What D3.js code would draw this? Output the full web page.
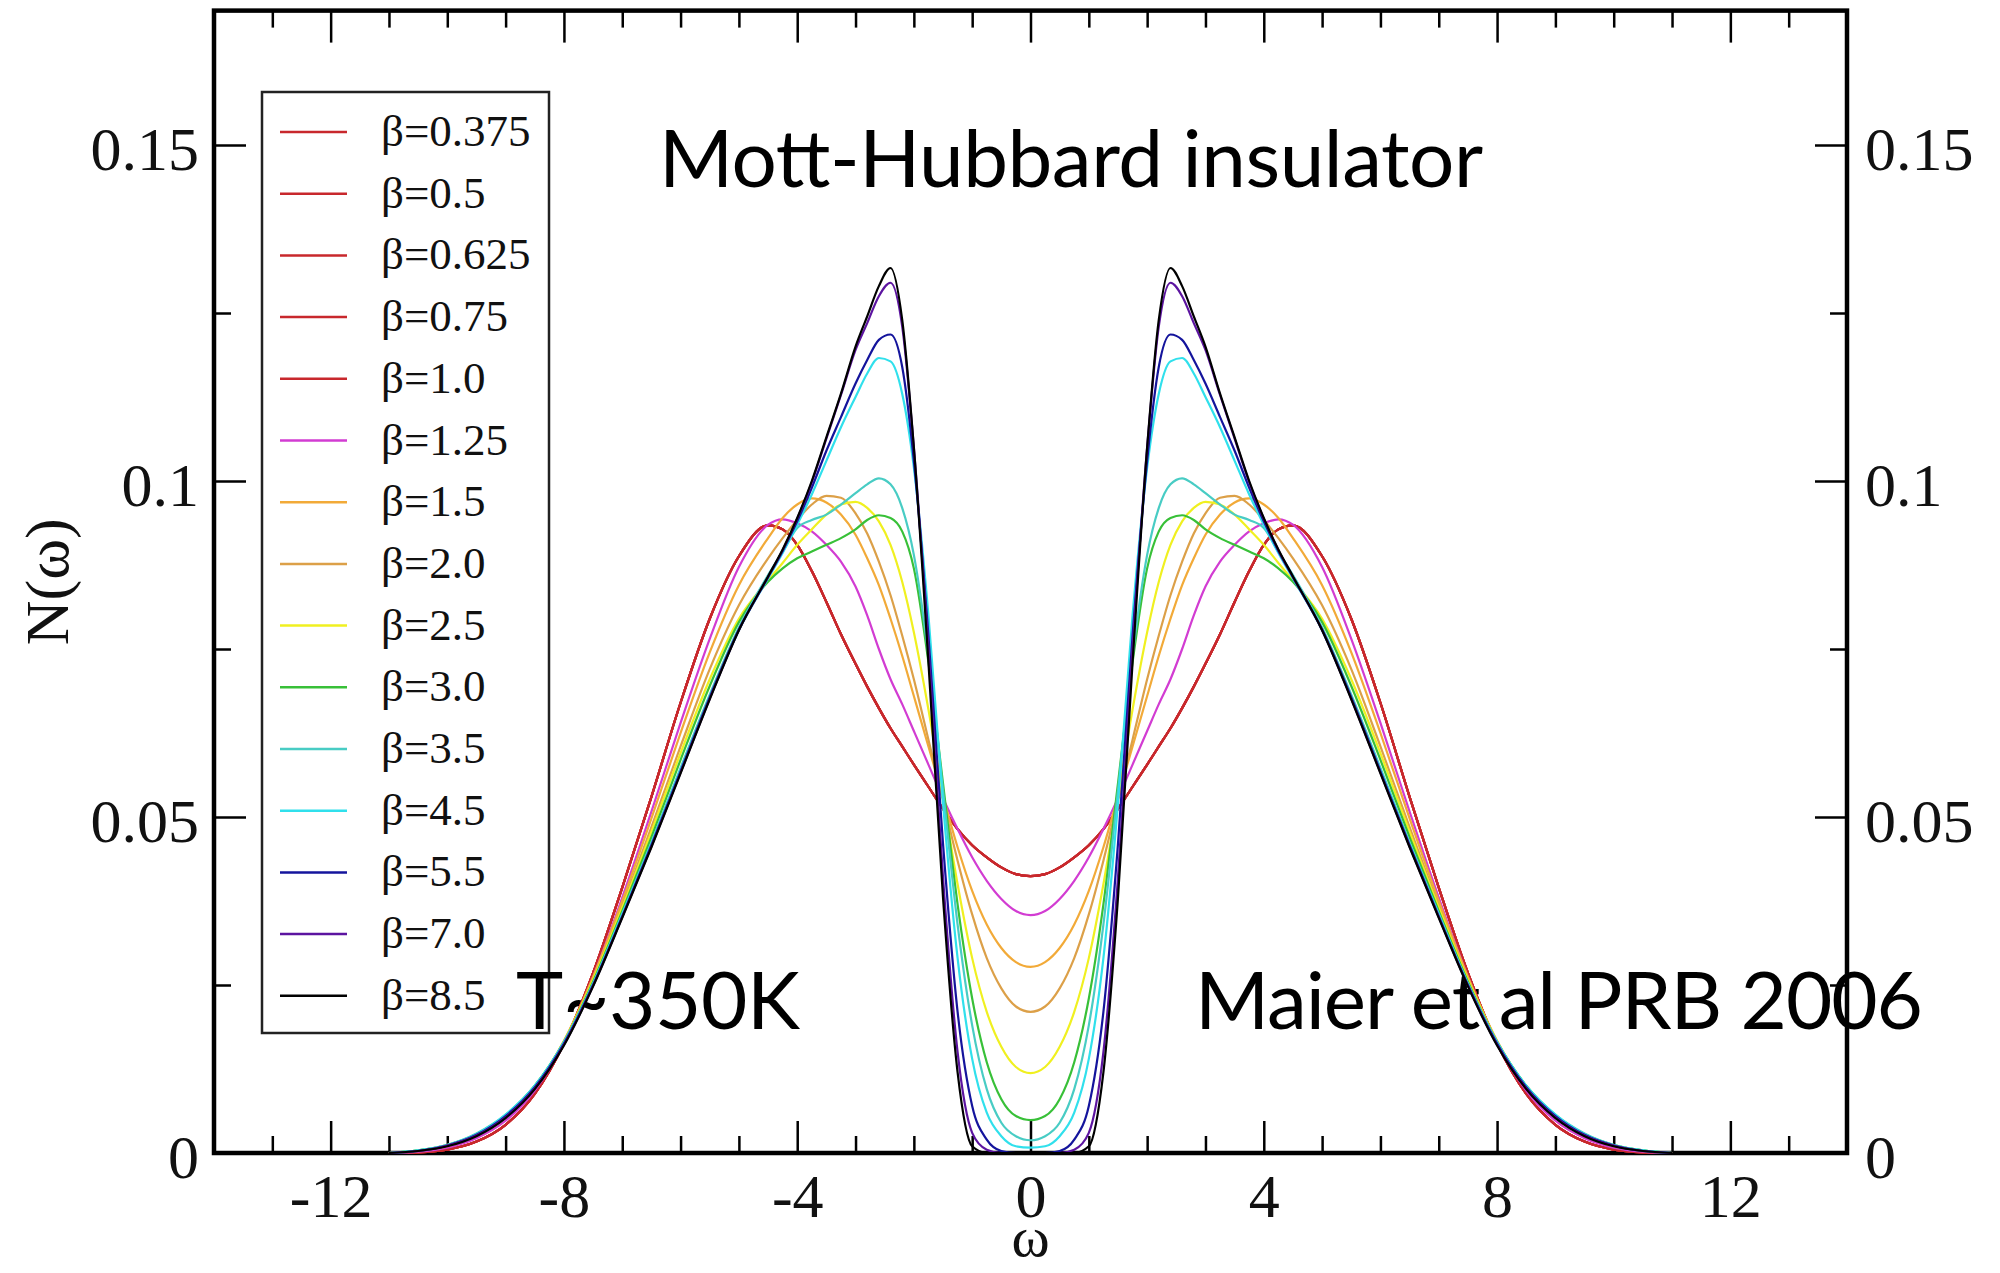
<!DOCTYPE html>
<html>
<head>
<meta charset="utf-8">
<script src="https://cdn.jsdelivr.net/npm/d3@7"></script>
<style>
  body { margin: 0; background: #fff; }
  svg { display: block; background: #fff; }
</style>
</head>
<body>
<svg id="chart"></svg>
<script>
// omega grid, positive half only - the spectra are symmetric around w = 0
var omega = [0, 0.25, 0.5, 0.75, 1, 1.25, 1.5, 1.75, 2, 2.2, 2.4, 2.6, 2.8, 3, 3.25, 3.5, 3.75,
             4, 4.25, 4.5, 5, 5.5, 6, 6.5, 7, 7.5, 8, 8.5, 9, 9.5, 10, 10.5, 11];

// N(w). beta 0.375 .. 1.0 sit on top of each other in the picture
var nRed    = [0.0412, 0.0415, 0.0425, 0.0440, 0.0458, 0.0482, 0.0512, 0.0545, 0.0578, 0.0605, 0.0632, 0.0662, 0.0694, 0.0728, 0.0772, 0.0820, 0.0866, 0.0905, 0.0928, 0.0934, 0.0888, 0.0795, 0.0670, 0.0530, 0.0395, 0.0268, 0.0163, 0.0088, 0.0042, 0.0017, 0.0005, 0.0001, 0];
var nB125   = [0.0354, 0.0360, 0.0378, 0.0405, 0.0440, 0.0482, 0.0528, 0.0578, 0.0628, 0.0668, 0.0705, 0.0750, 0.0800, 0.0843, 0.0880, 0.0905, 0.0925, 0.0937, 0.0943, 0.0935, 0.0872, 0.0765, 0.0640, 0.0508, 0.0380, 0.0262, 0.0163, 0.0093, 0.0048, 0.0022, 0.0008, 0.0002, 0];
var nB15    = [0.0277, 0.0284, 0.0305, 0.0340, 0.0390, 0.0455, 0.0530, 0.0605, 0.0680, 0.0740, 0.0795, 0.0845, 0.0885, 0.0920, 0.0950, 0.0968, 0.0974, 0.0965, 0.0945, 0.0915, 0.0845, 0.0745, 0.0625, 0.0498, 0.0375, 0.0262, 0.0167, 0.0098, 0.0053, 0.0026, 0.0010, 0.0003, 0];
var nB20    = [0.0210, 0.0218, 0.0245, 0.0290, 0.0355, 0.0435, 0.0525, 0.0615, 0.0705, 0.0770, 0.0830, 0.0880, 0.0922, 0.0952, 0.0975, 0.0978, 0.0965, 0.0942, 0.0915, 0.0885, 0.0815, 0.0720, 0.0605, 0.0485, 0.0368, 0.0258, 0.0166, 0.0099, 0.0055, 0.0027, 0.0011, 0.0003, 0];
var nB25    = [0.0119, 0.0128, 0.0158, 0.0210, 0.0290, 0.0400, 0.0530, 0.0660, 0.0775, 0.0850, 0.0905, 0.0940, 0.0960, 0.0969, 0.0965, 0.0950, 0.0928, 0.0905, 0.0878, 0.0852, 0.0795, 0.0705, 0.0595, 0.0478, 0.0365, 0.0258, 0.0166, 0.0100, 0.0056, 0.0028, 0.0012, 0.0004, 0];
var nB30    = [0.0049, 0.0055, 0.0080, 0.0135, 0.0230, 0.0370, 0.0550, 0.0730, 0.0870, 0.0925, 0.0945, 0.0949, 0.0942, 0.0928, 0.0915, 0.0905, 0.0895, 0.0885, 0.0870, 0.0850, 0.0790, 0.0695, 0.0585, 0.0470, 0.0360, 0.0255, 0.0165, 0.0100, 0.0056, 0.0028, 0.0012, 0.0004, 0];
var nB35    = [0.0019, 0.0025, 0.0045, 0.0095, 0.0190, 0.0340, 0.0540, 0.0740, 0.0890, 0.0960, 0.0995, 0.1004, 0.0995, 0.0982, 0.0965, 0.0950, 0.0942, 0.0930, 0.0895, 0.0860, 0.0782, 0.0682, 0.0573, 0.0462, 0.0356, 0.0252, 0.0165, 0.0100, 0.0057, 0.0029, 0.0012, 0.0004, 0];
var nB45    = [0.0008, 0.0010, 0.0025, 0.0060, 0.0140, 0.0290, 0.0520, 0.0800, 0.1020, 0.1130, 0.1178, 0.1183, 0.1160, 0.1125, 0.1080, 0.1030, 0.0980, 0.0935, 0.0893, 0.0855, 0.0778, 0.0678, 0.0570, 0.0460, 0.0355, 0.0252, 0.0165, 0.0100, 0.0057, 0.0028, 0.0012, 0.0004, 0];
var nB55    = [0, 0, 0.0003, 0.0020, 0.0070, 0.0210, 0.0460, 0.0770, 0.1030, 0.1170, 0.1218, 0.1210, 0.1180, 0.1145, 0.1095, 0.1045, 0.0990, 0.0940, 0.0896, 0.0857, 0.0779, 0.0678, 0.0568, 0.0458, 0.0352, 0.0250, 0.0163, 0.0098, 0.0055, 0.0027, 0.0011, 0.0003, 0];
var nB70    = [0, 0, 0, 0.0005, 0.0030, 0.0150, 0.0410, 0.0750, 0.1050, 0.1230, 0.1295, 0.1275, 0.1235, 0.1195, 0.1128, 0.1063, 0.0998, 0.0944, 0.0897, 0.0857, 0.0778, 0.0676, 0.0566, 0.0456, 0.0351, 0.0249, 0.0161, 0.0096, 0.0053, 0.0026, 0.0011, 0.0003, 0];
var nB85    = [0, 0, 0, 0, 0.0010, 0.0120, 0.0380, 0.0730, 0.1050, 0.1240, 0.1317, 0.1290, 0.1245, 0.1200, 0.1130, 0.1065, 0.1000, 0.0945, 0.0898, 0.0858, 0.0778, 0.0675, 0.0565, 0.0455, 0.0350, 0.0248, 0.0160, 0.0095, 0.0052, 0.0025, 0.0010, 0.0003, 0];

var betas  = ["0.375", "0.5", "0.625", "0.75", "1.0", "1.25", "1.5", "2.0", "2.5", "3.0", "3.5", "4.5", "5.5", "7.0", "8.5"];
var series = [nRed, nRed, nRed, nRed, nRed, nB125, nB15, nB20, nB25, nB30, nB35, nB45, nB55, nB70, nB85];
var colors = ["#c8282c", "#c8282c", "#c8282c", "#c8282c", "#c8282c", "#d23cd2", "#f2aa38", "#dca048",
              "#f0f020", "#38c038", "#48ccc4", "#30e0ec", "#14149c", "#5c14a0", "#000000"];

var xTicks = [-12, -8, -4, 0, 4, 8, 12];
var yTicks = [0, 0.05, 0.1, 0.15];
var yTickLabels = ["0", "0.05", "0.1", "0.15"];

var W = 2000, H = 1273;
var serif = "'Liberation Serif', 'Times New Roman', serif";
var sans = "Lato, 'Open Sans', sans-serif";

var svg = d3.select("#chart").attr("width", W).attr("height", H);

var x = d3.scaleLinear().domain([-14, 14]).range([214, 1847]);
var y = d3.scaleLinear().domain([0, 0.17]).range([1153, 10.6]);

// mirror the positive half onto negative omega
function mirrored(vals) {
        var left = omega.slice(1).map((w, i) => [-w, vals[i + 1]]).reverse();
        return left.concat(omega.map((w, i) => [w, vals[i]]));
}

function styleAxis(g) {
        g.select(".domain").remove();
        g.selectAll(".tick line").attr("stroke", "#000").attr("stroke-width", 2.5);
        g.selectAll("text").attr("fill", "#111").style("font-family", serif).style("font-size", "62px");
}

var xMinor = d3.range(-13, 14, 1).filter(d => xTicks.indexOf(d) < 0);
var yMinor = [0.025, 0.075, 0.125];

// bottom (plain hyphen for negatives, like the original)
svg.append("g").attr("transform", "translate(0," + y(0) + ")")
        .call(d3.axisBottom(x).tickValues(xTicks).tickSize(-32).tickPadding(20)
                .tickFormat(d => String(d)))
        .call(styleAxis);
svg.append("g").attr("transform", "translate(0," + y(0) + ")")
        .call(d3.axisBottom(x).tickValues(xMinor).tickSize(-17).tickFormat(""))
        .call(styleAxis);
// top
svg.append("g").attr("transform", "translate(0," + y(0.17) + ")")
        .call(d3.axisTop(x).tickValues(xTicks).tickSize(-32).tickFormat(""))
        .call(styleAxis);
svg.append("g").attr("transform", "translate(0," + y(0.17) + ")")
        .call(d3.axisTop(x).tickValues(xMinor).tickSize(-17).tickFormat(""))
        .call(styleAxis);
// left
svg.append("g").attr("transform", "translate(" + x(-14) + ",0)")
        .call(d3.axisLeft(y).tickValues(yTicks).tickSize(-32).tickPadding(15)
                .tickFormat((d, i) => yTickLabels[i]))
        .call(styleAxis)
        .call(g => g.selectAll("text").attr("dy", "0.4em"));
svg.append("g").attr("transform", "translate(" + x(-14) + ",0)")
        .call(d3.axisLeft(y).tickValues(yMinor).tickSize(-17).tickFormat(""))
        .call(styleAxis);
// right
svg.append("g").attr("transform", "translate(" + x(14) + ",0)")
        .call(d3.axisRight(y).tickValues(yTicks).tickSize(-32).tickPadding(18)
                .tickFormat((d, i) => yTickLabels[i]))
        .call(styleAxis)
        .call(g => g.selectAll("text").attr("dy", "0.4em"));
svg.append("g").attr("transform", "translate(" + x(14) + ",0)")
        .call(d3.axisRight(y).tickValues(yMinor).tickSize(-17).tickFormat(""))
        .call(styleAxis);

// frame
svg.append("rect")
        .attr("x", x(-14)).attr("y", y(0.17))
        .attr("width", x(14) - x(-14)).attr("height", y(0) - y(0.17))
        .attr("fill", "none").attr("stroke", "#000").attr("stroke-width", 4.5);

// axis titles
svg.append("text")
        .attr("transform", "translate(68," + (y(0) + y(0.17)) / 2 + ") rotate(-90)")
        .attr("text-anchor", "middle")
        .style("font-family", serif).style("font-size", "62px").attr("fill", "#111")
        .text("N(ω)");
svg.append("text")
        .attr("x", x(0)).attr("y", 1256)
        .attr("text-anchor", "middle")
        .style("font-family", serif).style("font-size", "58px").attr("fill", "#111")
        .text("ω");

// legend
var legend = svg.append("g");
legend.append("rect")
        .attr("x", 262).attr("y", 92).attr("width", 287).attr("height", 941)
        .attr("fill", "#fff").attr("stroke", "#222").attr("stroke-width", 2.5);
var item = legend.selectAll(".item")
        .data(betas)
        .enter().append("g")
        .attr("transform", (d, i) => "translate(0," + (132 + i * 61.7) + ")");
item.append("line")
        .attr("x1", 280).attr("x2", 347)
        .attr("stroke", (d, i) => colors[i]).attr("stroke-width", 2.5);
item.append("text")
        .attr("x", 381).attr("y", 14)
        .style("font-family", serif).style("font-size", "45px").attr("fill", "#111")
        .text(d => "β=" + d);

// annotations
function note(txt, x0, x1, base) {
        svg.append("text")
                .attr("x", x0).attr("y", base)
                .attr("textLength", x1 - x0).attr("lengthAdjust", "spacing")
                .style("font-family", sans).style("font-size", "80px").attr("fill", "#000")
                .text(txt);
}
note("Mott-Hubbard insulator", 659, 1483, 187);
note("T~350K", 516, 800, 1029);
note("Maier et al PRB 2006", 1195, 1923, 1029);

// spectra
var line = d3.line()
        .x(d => x(d[0]))
        .y(d => y(d[1]))
        .curve(d3.curveMonotoneX);

svg.append("g").selectAll("path")
        .data(series)
        .enter().append("path")
        .attr("d", d => line(mirrored(d)))
        .attr("fill", "none")
        .attr("stroke", (d, i) => colors[i])
        .attr("stroke-width", 2.2)
        .attr("stroke-linejoin", "round");
</script>
</body>
</html>
